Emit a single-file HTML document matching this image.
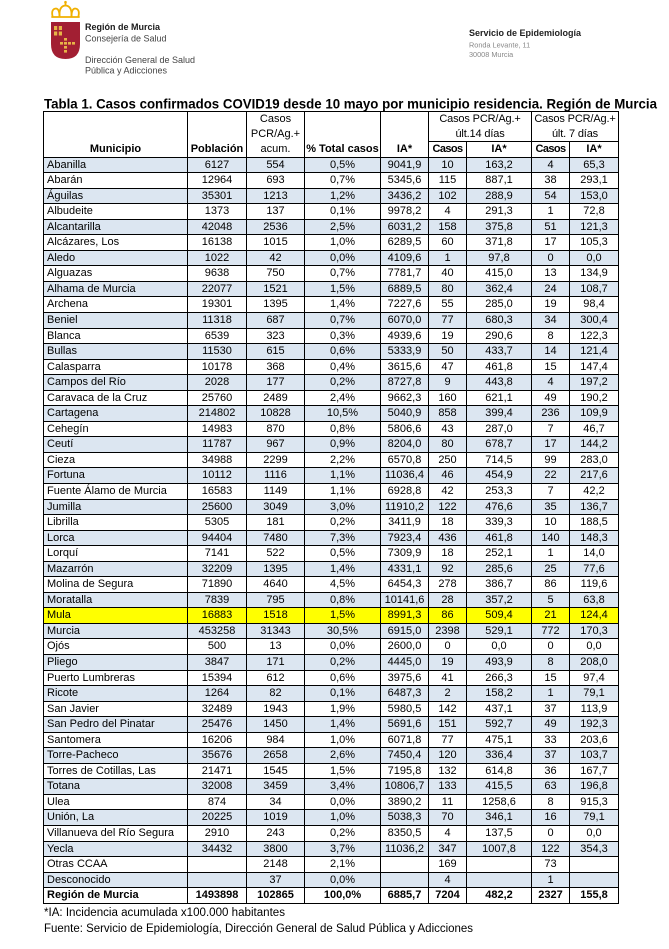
<!DOCTYPE html>
<html>
<head>
<meta charset="utf-8">
<style>
*{box-sizing:border-box;margin:0;padding:0}
html,body{width:669px;height:949px;background:#fff;overflow:hidden}
body{position:relative;font-family:"Liberation Sans",Arial,sans-serif;color:#000}
#bg{position:absolute;left:0;top:0}
#t{position:absolute;left:43px;top:111px;border-left:1px solid #000;border-top:1px solid #000;width:576px}
.hd{display:grid;grid-template-columns:144px 59px 58px 76px 48px 38px 65px 38px 49px;grid-template-rows:15px 15px 15.5px}
.hd i{font-style:normal;border-right:1px solid #000;border-bottom:1px solid #000;display:flex;align-items:flex-end;justify-content:center;text-align:center;font-size:11px;line-height:15px;white-space:nowrap}
.hd i.b{font-weight:bold}
.hd i.g{align-items:center;font-size:11px;line-height:14.5px;letter-spacing:-0.15px}
.hd i.a{font-size:11px}
.hd i.c{letter-spacing:-0.6px}
.r{display:grid;grid-template-columns:144px 59px 58px 76px 48px 38px 65px 38px 49px;height:15.56px}
.r i{font-style:normal;border-right:1px solid #000;border-bottom:1px solid #000;text-align:center;font-size:11px;line-height:14.5px;white-space:nowrap;overflow:hidden}
.r i:first-child{text-align:left;padding-left:3px}
.s i{background:#dce6f1}
.y i{background:#ffff00}
.tot i{font-weight:bold}
</style>
</head>
<body>
<svg id="bg" width="669" height="949" viewBox="0 0 669 949" xmlns="http://www.w3.org/2000/svg">
  <g fill="none" stroke="#f0b000" stroke-width="1.8" stroke-linecap="round">
    <path d="M52.5 16 Q51 9 56 8.5 Q59.5 9 59.5 16"/>
    <path d="M59.5 16 Q59 6 65.5 5.5 Q72 6 71.5 16"/>
    <path d="M71.5 16 Q71.5 9 75 8.5 Q80 9 78.5 16"/>
    <path d="M52 17 H79"/>
    <path d="M65.5 5.5 V2"/>
  </g>
  <circle cx="65.5" cy="2.2" r="1.3" fill="#f0b000"/>
  <path d="M51 22 H80 V44 Q80 59 65.5 59 Q51 59 51 44 Z" fill="#a21f33"/>
  <g fill="#e7b447">
    <rect x="54" y="26" width="3.2" height="4"/>
    <rect x="58.8" y="26" width="3.2" height="4"/>
    <rect x="54" y="31.5" width="3.2" height="4"/>
    <rect x="58.8" y="31.5" width="3.2" height="4"/>
    <rect x="64" y="38" width="3" height="2.6"/>
    <rect x="60" y="42" width="3" height="2.6"/>
    <rect x="64" y="42" width="3" height="2.6"/>
    <rect x="68" y="42" width="3" height="2.6"/>
    <rect x="72" y="42" width="3" height="2.6"/>
    <rect x="64" y="46" width="3" height="2.6"/>
    <rect x="64" y="50" width="3" height="2.6"/>
  </g>
  <g font-family="Liberation Sans, Arial, sans-serif">
    <text x="85" y="30" font-size="9" font-weight="bold" fill="#1a1a1a">Región de Murcia</text>
    <text x="85" y="41.5" font-size="9" fill="#444">Consejería de Salud</text>
    <text x="85" y="63" font-size="9" fill="#444">Dirección General de Salud</text>
    <text x="85" y="73.5" font-size="9" fill="#444">Pública y Adicciones</text>
    <text x="469" y="36" font-size="9" font-weight="bold" fill="#222">Servicio de Epidemiología</text>
    <text x="469" y="47.5" font-size="7.3" fill="#888">Ronda Levante, 11</text>
    <text x="469" y="57" font-size="7.3" fill="#888">30008 Murcia</text>
    <text x="44" y="108.5" font-size="14" font-weight="bold" fill="#000" textLength="613" lengthAdjust="spacingAndGlyphs">Tabla 1. Casos confirmados COVID19 desde 10 mayo por municipio residencia. Región de Murcia</text>
    <text x="44" y="916" font-size="11.5" fill="#000" textLength="241" lengthAdjust="spacingAndGlyphs">*IA: Incidencia acumulada x100.000 habitantes</text>
    <text x="44" y="932" font-size="11.5" fill="#000" textLength="429" lengthAdjust="spacingAndGlyphs">Fuente: Servicio de Epidemiología, Dirección General de Salud Pública y Adicciones</text>
  </g>
</svg>

<div id="t">
  <div class="hd">
    <i class="b" style="grid-row:1/4;grid-column:1">Municipio</i>
    <i class="b" style="grid-row:1/4;grid-column:2">Población</i>
    <i class="a" style="grid-row:1/4;grid-column:3">Casos<br>PCR/Ag.+<br>acum.</i>
    <i class="b" style="grid-row:1/4;grid-column:4">% Total casos</i>
    <i class="b" style="grid-row:1/4;grid-column:5">IA*</i>
    <i class="g" style="grid-row:1/3;grid-column:6/8">Casos PCR/Ag.+<br>últ.14 días</i>
    <i class="g" style="grid-row:1/3;grid-column:8/10">Casos PCR/Ag.+<br>últ. 7 días</i>
    <i class="b c" style="grid-row:3;grid-column:6">Casos</i>
    <i class="b" style="grid-row:3;grid-column:7">IA*</i>
    <i class="b c" style="grid-row:3;grid-column:8">Casos</i>
    <i class="b" style="grid-row:3;grid-column:9">IA*</i>
  </div>
  <div class="r s"><i>Abanilla</i><i>6127</i><i>554</i><i>0,5%</i><i>9041,9</i><i>10</i><i>163,2</i><i>4</i><i>65,3</i></div>
  <div class="r"><i>Abarán</i><i>12964</i><i>693</i><i>0,7%</i><i>5345,6</i><i>115</i><i>887,1</i><i>38</i><i>293,1</i></div>
  <div class="r s"><i>Águilas</i><i>35301</i><i>1213</i><i>1,2%</i><i>3436,2</i><i>102</i><i>288,9</i><i>54</i><i>153,0</i></div>
  <div class="r"><i>Albudeite</i><i>1373</i><i>137</i><i>0,1%</i><i>9978,2</i><i>4</i><i>291,3</i><i>1</i><i>72,8</i></div>
  <div class="r s"><i>Alcantarilla</i><i>42048</i><i>2536</i><i>2,5%</i><i>6031,2</i><i>158</i><i>375,8</i><i>51</i><i>121,3</i></div>
  <div class="r"><i>Alcázares, Los</i><i>16138</i><i>1015</i><i>1,0%</i><i>6289,5</i><i>60</i><i>371,8</i><i>17</i><i>105,3</i></div>
  <div class="r s"><i>Aledo</i><i>1022</i><i>42</i><i>0,0%</i><i>4109,6</i><i>1</i><i>97,8</i><i>0</i><i>0,0</i></div>
  <div class="r"><i>Alguazas</i><i>9638</i><i>750</i><i>0,7%</i><i>7781,7</i><i>40</i><i>415,0</i><i>13</i><i>134,9</i></div>
  <div class="r s"><i>Alhama de Murcia</i><i>22077</i><i>1521</i><i>1,5%</i><i>6889,5</i><i>80</i><i>362,4</i><i>24</i><i>108,7</i></div>
  <div class="r"><i>Archena</i><i>19301</i><i>1395</i><i>1,4%</i><i>7227,6</i><i>55</i><i>285,0</i><i>19</i><i>98,4</i></div>
  <div class="r s"><i>Beniel</i><i>11318</i><i>687</i><i>0,7%</i><i>6070,0</i><i>77</i><i>680,3</i><i>34</i><i>300,4</i></div>
  <div class="r"><i>Blanca</i><i>6539</i><i>323</i><i>0,3%</i><i>4939,6</i><i>19</i><i>290,6</i><i>8</i><i>122,3</i></div>
  <div class="r s"><i>Bullas</i><i>11530</i><i>615</i><i>0,6%</i><i>5333,9</i><i>50</i><i>433,7</i><i>14</i><i>121,4</i></div>
  <div class="r"><i>Calasparra</i><i>10178</i><i>368</i><i>0,4%</i><i>3615,6</i><i>47</i><i>461,8</i><i>15</i><i>147,4</i></div>
  <div class="r s"><i>Campos del Río</i><i>2028</i><i>177</i><i>0,2%</i><i>8727,8</i><i>9</i><i>443,8</i><i>4</i><i>197,2</i></div>
  <div class="r"><i>Caravaca de la Cruz</i><i>25760</i><i>2489</i><i>2,4%</i><i>9662,3</i><i>160</i><i>621,1</i><i>49</i><i>190,2</i></div>
  <div class="r s"><i>Cartagena</i><i>214802</i><i>10828</i><i>10,5%</i><i>5040,9</i><i>858</i><i>399,4</i><i>236</i><i>109,9</i></div>
  <div class="r"><i>Cehegín</i><i>14983</i><i>870</i><i>0,8%</i><i>5806,6</i><i>43</i><i>287,0</i><i>7</i><i>46,7</i></div>
  <div class="r s"><i>Ceutí</i><i>11787</i><i>967</i><i>0,9%</i><i>8204,0</i><i>80</i><i>678,7</i><i>17</i><i>144,2</i></div>
  <div class="r"><i>Cieza</i><i>34988</i><i>2299</i><i>2,2%</i><i>6570,8</i><i>250</i><i>714,5</i><i>99</i><i>283,0</i></div>
  <div class="r s"><i>Fortuna</i><i>10112</i><i>1116</i><i>1,1%</i><i>11036,4</i><i>46</i><i>454,9</i><i>22</i><i>217,6</i></div>
  <div class="r"><i>Fuente Álamo de Murcia</i><i>16583</i><i>1149</i><i>1,1%</i><i>6928,8</i><i>42</i><i>253,3</i><i>7</i><i>42,2</i></div>
  <div class="r s"><i>Jumilla</i><i>25600</i><i>3049</i><i>3,0%</i><i>11910,2</i><i>122</i><i>476,6</i><i>35</i><i>136,7</i></div>
  <div class="r"><i>Librilla</i><i>5305</i><i>181</i><i>0,2%</i><i>3411,9</i><i>18</i><i>339,3</i><i>10</i><i>188,5</i></div>
  <div class="r s"><i>Lorca</i><i>94404</i><i>7480</i><i>7,3%</i><i>7923,4</i><i>436</i><i>461,8</i><i>140</i><i>148,3</i></div>
  <div class="r"><i>Lorquí</i><i>7141</i><i>522</i><i>0,5%</i><i>7309,9</i><i>18</i><i>252,1</i><i>1</i><i>14,0</i></div>
  <div class="r s"><i>Mazarrón</i><i>32209</i><i>1395</i><i>1,4%</i><i>4331,1</i><i>92</i><i>285,6</i><i>25</i><i>77,6</i></div>
  <div class="r"><i>Molina de Segura</i><i>71890</i><i>4640</i><i>4,5%</i><i>6454,3</i><i>278</i><i>386,7</i><i>86</i><i>119,6</i></div>
  <div class="r s"><i>Moratalla</i><i>7839</i><i>795</i><i>0,8%</i><i>10141,6</i><i>28</i><i>357,2</i><i>5</i><i>63,8</i></div>
  <div class="r y"><i>Mula</i><i>16883</i><i>1518</i><i>1,5%</i><i>8991,3</i><i>86</i><i>509,4</i><i>21</i><i>124,4</i></div>
  <div class="r s"><i>Murcia</i><i>453258</i><i>31343</i><i>30,5%</i><i>6915,0</i><i>2398</i><i>529,1</i><i>772</i><i>170,3</i></div>
  <div class="r"><i>Ojós</i><i>500</i><i>13</i><i>0,0%</i><i>2600,0</i><i>0</i><i>0,0</i><i>0</i><i>0,0</i></div>
  <div class="r s"><i>Pliego</i><i>3847</i><i>171</i><i>0,2%</i><i>4445,0</i><i>19</i><i>493,9</i><i>8</i><i>208,0</i></div>
  <div class="r"><i>Puerto Lumbreras</i><i>15394</i><i>612</i><i>0,6%</i><i>3975,6</i><i>41</i><i>266,3</i><i>15</i><i>97,4</i></div>
  <div class="r s"><i>Ricote</i><i>1264</i><i>82</i><i>0,1%</i><i>6487,3</i><i>2</i><i>158,2</i><i>1</i><i>79,1</i></div>
  <div class="r"><i>San Javier</i><i>32489</i><i>1943</i><i>1,9%</i><i>5980,5</i><i>142</i><i>437,1</i><i>37</i><i>113,9</i></div>
  <div class="r s"><i>San Pedro del Pinatar</i><i>25476</i><i>1450</i><i>1,4%</i><i>5691,6</i><i>151</i><i>592,7</i><i>49</i><i>192,3</i></div>
  <div class="r"><i>Santomera</i><i>16206</i><i>984</i><i>1,0%</i><i>6071,8</i><i>77</i><i>475,1</i><i>33</i><i>203,6</i></div>
  <div class="r s"><i>Torre-Pacheco</i><i>35676</i><i>2658</i><i>2,6%</i><i>7450,4</i><i>120</i><i>336,4</i><i>37</i><i>103,7</i></div>
  <div class="r"><i>Torres de Cotillas, Las</i><i>21471</i><i>1545</i><i>1,5%</i><i>7195,8</i><i>132</i><i>614,8</i><i>36</i><i>167,7</i></div>
  <div class="r s"><i>Totana</i><i>32008</i><i>3459</i><i>3,4%</i><i>10806,7</i><i>133</i><i>415,5</i><i>63</i><i>196,8</i></div>
  <div class="r"><i>Ulea</i><i>874</i><i>34</i><i>0,0%</i><i>3890,2</i><i>11</i><i>1258,6</i><i>8</i><i>915,3</i></div>
  <div class="r s"><i>Unión, La</i><i>20225</i><i>1019</i><i>1,0%</i><i>5038,3</i><i>70</i><i>346,1</i><i>16</i><i>79,1</i></div>
  <div class="r"><i>Villanueva del Río Segura</i><i>2910</i><i>243</i><i>0,2%</i><i>8350,5</i><i>4</i><i>137,5</i><i>0</i><i>0,0</i></div>
  <div class="r s"><i>Yecla</i><i>34432</i><i>3800</i><i>3,7%</i><i>11036,2</i><i>347</i><i>1007,8</i><i>122</i><i>354,3</i></div>
  <div class="r"><i>Otras CCAA</i><i></i><i>2148</i><i>2,1%</i><i></i><i>169</i><i></i><i>73</i><i></i></div>
  <div class="r s"><i>Desconocido</i><i></i><i>37</i><i>0,0%</i><i></i><i>4</i><i></i><i>1</i><i></i></div>
  <div class="r tot"><i>Región de Murcia</i><i>1493898</i><i>102865</i><i>100,0%</i><i>6885,7</i><i>7204</i><i>482,2</i><i>2327</i><i>155,8</i></div>
</div>
</body>
</html>
